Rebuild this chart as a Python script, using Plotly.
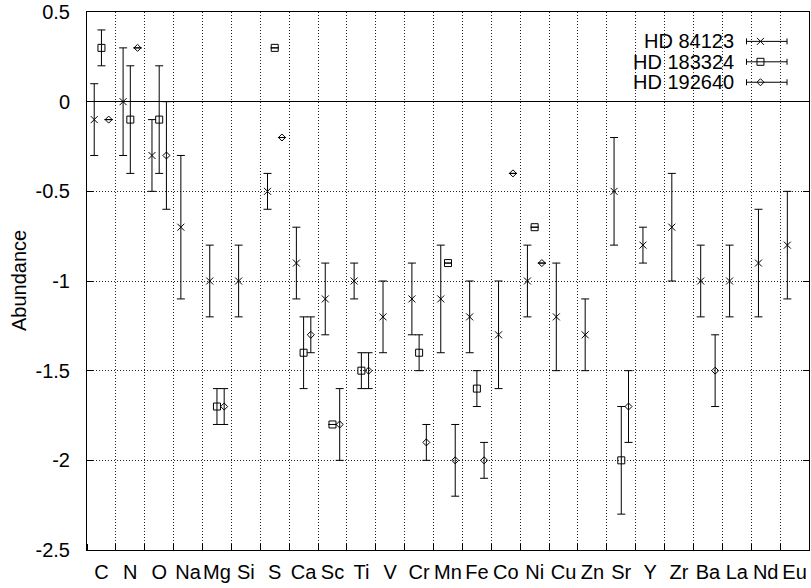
import plotly.graph_objects as go

# ---------------- data ----------------
elements = ["C", "N", "O", "Na", "Mg", "Si", "S", "Ca", "Sc", "Ti", "V", "Cr", "Mn",
            "Fe", "Co", "Ni", "Cu", "Zn", "Sr", "Y", "Zr", "Ba", "La", "Nd", "Eu"]

hd84123_val = [-0.1, 0.0, -0.3, -0.7, -1.0, -1.0, -0.5, -0.9, -1.1, -1.0, -1.2, -1.1, -1.1,
               -1.2, -1.3, -1.0, -1.2, -1.3, -0.5, -0.8, -0.7, -1.0, -1.0, -0.9, -0.8]
hd84123_err = [0.2, 0.3, 0.2, 0.4, 0.2, 0.2, 0.1, 0.2, 0.2, 0.1, 0.2, 0.2, 0.3,
               0.2, 0.3, 0.2, 0.3, 0.2, 0.3, 0.1, 0.3, 0.2, 0.2, 0.3, 0.3]

hd183324_val = [0.3, -0.1, -0.1, None, -1.7, None, 0.3, -1.4, -1.8, -1.5, None, -1.4, -0.9,
                -1.6, None, -0.7, None, None, -2.0, None, None, None, None, None, None]
hd183324_err = [0.1, 0.3, 0.3, None, 0.1, None, None, 0.2, None, 0.1, None, 0.1, None,
                0.1, None, None, None, None, 0.3, None, None, None, None, None, None]

hd192640_val = [-0.1, 0.3, -0.3, None, -1.7, None, -0.2, -1.3, -1.8, -1.5, None, -1.9, -2.0,
                -2.0, -0.4, -0.9, None, None, -1.7, None, None, -1.5, None, None, None]
hd192640_err = [None, None, 0.3, None, 0.1, None, None, 0.1, 0.2, 0.1, None, 0.1, 0.2,
                0.1, None, None, None, None, 0.2, None, None, 0.2, None, None, None]

y_ticks = [-2.5, -2.0, -1.5, -1.0, -0.5, 0.0, 0.5]
y_ticktext = ["-2.5", "-2", "-1.5", "-1", "-0.5", "0", "0.5"]

series = [
    ("HD 84123", hd84123_val, hd84123_err, 0.25, "x-thin-open", 7),
    ("HD 183324", hd183324_val, hd183324_err, 0.50, "square-open", 7),
    ("HD 192640", hd192640_val, hd192640_err, 0.75, "diamond-open", 5.4),
]

FONT = "Liberation Sans, Arial, Helvetica, sans-serif"
FS = 20

fig = go.Figure()

for name, vals, errs, off, sym, size in series:
    fig.add_trace(go.Scatter(
        x=[i + off for i in range(len(elements))],
        y=vals,
        mode="markers",
        name=name,
        showlegend=False,
        marker=dict(symbol=sym, size=size, color="black",
                    line=dict(color="black", width=1)),
        error_y=dict(type="data", array=errs, visible=True,
                     thickness=1, width=4, color="black"),
    ))

# ----- gnuplot-style key (text, then sample error bar with symbol) -----
key_rows = [39.5, 60, 80.5]
for (name, vals, errs, off, sym, size), ky in zip(series, key_rows):
    fig.add_trace(go.Scatter(
        x=[761.7], y=[ky], xaxis="x2", yaxis="y2",
        mode="markers", showlegend=False, hoverinfo="skip",
        marker=dict(symbol=sym, size=size, color="black",
                    line=dict(color="black", width=1)),
        error_x=dict(type="data", symmetric=False, array=[26.6], arrayminus=[14],
                     visible=True, thickness=1, width=3, color="black"),
    ))
    fig.add_annotation(x=737, y=ky, xref="x2", yref="y2", text=name,
                       showarrow=False, xanchor="right", yanchor="middle",
                       font=dict(family=FONT, size=FS, color="black"))

fig.add_annotation(text="Abundance", xref="paper", yref="paper", x=0, y=0.5,
                   xanchor="center", yanchor="middle", xshift=-68, textangle=-90,
                   showarrow=False, font=dict(family=FONT, size=FS, color="black"))

fig.update_layout(
    width=811, height=588,
    margin=dict(l=87, r=1, t=10, b=38),
    paper_bgcolor="white", plot_bgcolor="white",
    font=dict(family=FONT, size=FS, color="black"),
    showlegend=False,
    xaxis=dict(
        range=[0, 25],
        tickvals=[i + 0.5 for i in range(len(elements))],
        ticktext=elements,
        tickangle=0,
        ticks="", showgrid=False, zeroline=False,
        showline=True, linecolor="black", linewidth=1, mirror=True,
        ticklabelstandoff=4,
        ticklabeloverflow="allow",
        minor=dict(tick0=0, dtick=1, ticks="inside", ticklen=6, tickcolor="black",
                   showgrid=True, gridcolor="#222", griddash="1px,2px", gridwidth=1),
        tickfont=dict(family=FONT, size=FS, color="black"),
    ),
    yaxis=dict(
        range=[-2.5, 0.5],
        tickvals=y_ticks, ticktext=y_ticktext,
        ticks="inside", ticklen=6, tickcolor="black",
        showgrid=True, gridcolor="#222", griddash="1px,2px", gridwidth=1,
        zeroline=True, zerolinecolor="black", zerolinewidth=1,
        showline=True, linecolor="black", linewidth=1, mirror="ticks",
        ticklabelstandoff=12,
        ticklabeloverflow="allow",
        tickfont=dict(family=FONT, size=FS, color="black"),
    ),
    xaxis2=dict(range=[87.3, 810.3], overlaying="x", anchor="y2", visible=False,
                fixedrange=True),
    yaxis2=dict(range=[550, 10], overlaying="y", anchor="x2", visible=False,
                fixedrange=True),
)

fig.write_html("out.html", config={"displayModeBar": False},
               post_script="document.body.style.margin='0px';")
